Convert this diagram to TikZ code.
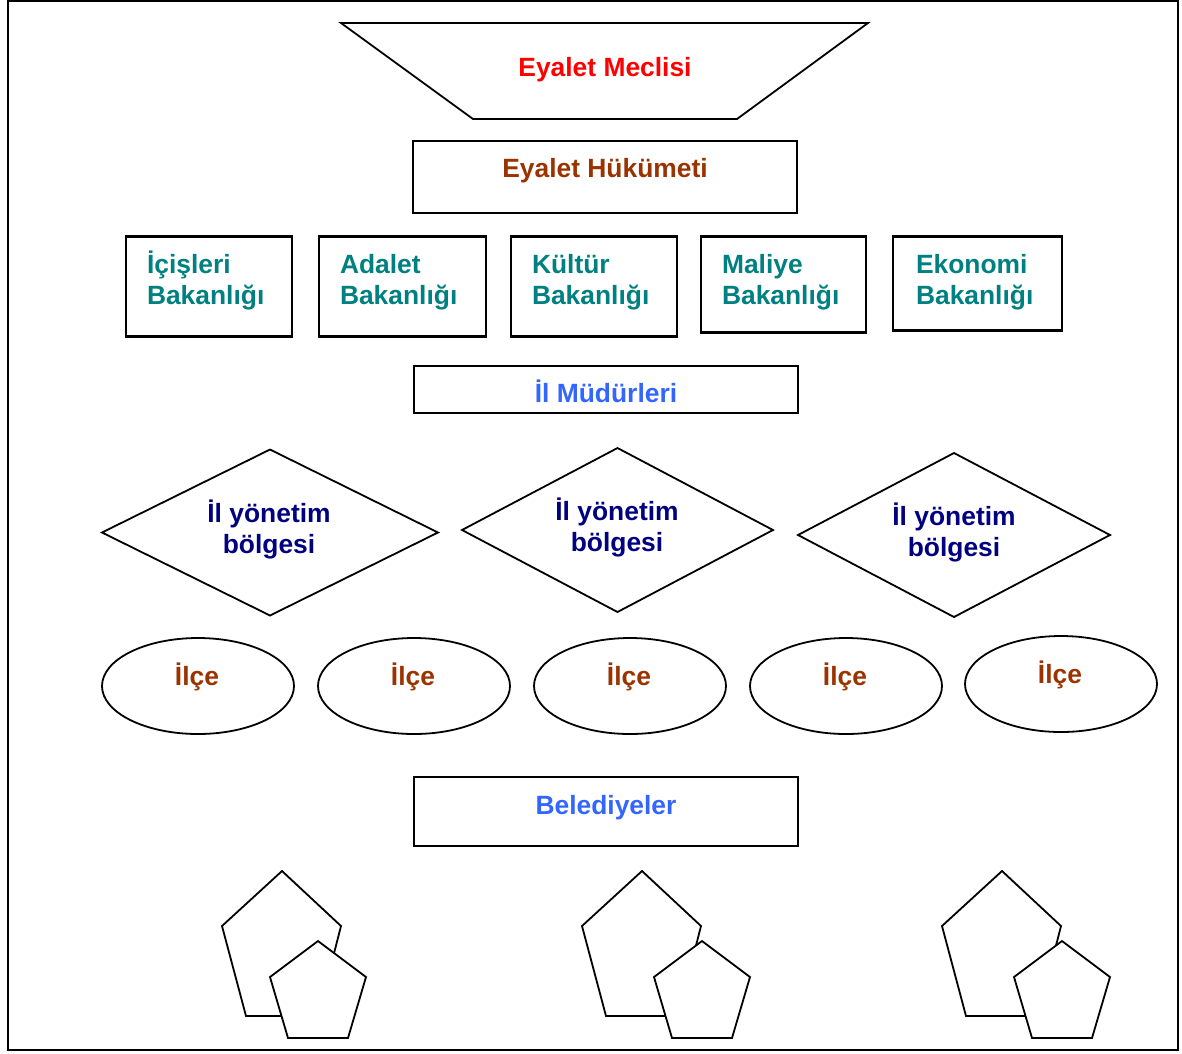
\documentclass[tikz,border=0pt]{standalone}
\usepackage{fontspec}
\setmainfont{Liberation Sans}
\usepackage{tikz}
\usetikzlibrary{shapes.geometric}

\definecolor{meclisred}{HTML}{FF0000}
\definecolor{hukumetbrown}{HTML}{993300}
\definecolor{bakanteal}{HTML}{008080}
\definecolor{mudurblue}{HTML}{3366FF}
\definecolor{bolgenavy}{HTML}{000080}

\begin{document}
\begin{tikzpicture}[x=1pt, y=-1pt, line width=1.8pt,
  every node/.style={inner sep=0pt, outer sep=0pt, font=\fontsize{26.4}{31.5}\selectfont\bfseries},
  kutu/.style={draw, rectangle, line width=2.2pt},
  bolge/.style={draw, diamond},
  ilce/.style={draw, ellipse},
  yazi/.style={anchor=base, align=center}]

  \useasboundingbox (0,0) rectangle (1182,1053);
  \draw [line width=2.4pt] (8,1) rectangle (1178,1050);

  % meclis ve hukumet
  \draw (341,23) -- (868,23) -- (737,119) -- (473,119) -- cycle;
  \node [yazi, text=meclisred] (meclis) at (605,76) {Eyalet Meclisi};

  \node [kutu, minimum width=384pt, minimum height=72pt] (hukumetkutu) at (605,177) {};
  \node [yazi, text=hukumetbrown] (hukumet) at (605,177) {Eyalet Hükümeti};

  % bakanliklar
  \node [kutu, minimum width=166pt, minimum height=100pt] (b1) at (209,286.5) {};
  \node [kutu, minimum width=167pt, minimum height=100pt] (b2) at (402.5,286.5) {};
  \node [kutu, minimum width=166pt, minimum height=100pt] (b3) at (594,286.5) {};
  \node [kutu, minimum width=165pt, minimum height=96pt] (b4) at (783.5,284.5) {};
  \node [kutu, minimum width=169pt, minimum height=94pt] (b5) at (977.5,283.5) {};

  \node [yazi, anchor=base west, align=left, text=bakanteal] (icisleri) at (147,304.5) {İçişleri\\Bakanlığı};
  \node [yazi, anchor=base west, align=left, text=bakanteal] (adalet) at (340,304.5) {Adalet\\Bakanlığı};
  \node [yazi, anchor=base west, align=left, text=bakanteal] (kultur) at (532,304.5) {Kültür\\Bakanlığı};
  \node [yazi, anchor=base west, align=left, text=bakanteal] (maliye) at (722,304.5) {Maliye\\Bakanlığı};
  \node [yazi, anchor=base west, align=left, text=bakanteal] (ekonomi) at (916,304.5) {Ekonomi\\Bakanlığı};

  % il mudurleri
  \node [kutu, minimum width=384pt, minimum height=47pt] (mudurkutu) at (606,389.5) {};
  \node [yazi, text=mudurblue] (mudur) at (606,402) {İl Müdürleri};

  % il yonetim bolgeleri
  \node [bolge, minimum width=336pt, minimum height=166pt] (d1) at (270,532.5) {};
  \node [bolge, minimum width=311pt, minimum height=164pt] (d2) at (617.5,530) {};
  \node [bolge, minimum width=312pt, minimum height=164pt] (d3) at (954,535) {};

  \node [yazi, text=bolgenavy] (bolge1) at (269,553.5) {İl yönetim\\bölgesi};
  \node [yazi, text=bolgenavy] (bolge2) at (617,551.5) {İl yönetim\\bölgesi};
  \node [yazi, text=bolgenavy] (bolge3) at (954,556.5) {İl yönetim\\bölgesi};

  % ilceler
  \foreach \i/\cx/\cy in {1/198/686, 2/414/686, 3/630/686, 4/846/686, 5/1061/684} {
    \node [ilce, minimum width=192pt, minimum height=96pt] (e\i) at (\cx,\cy) {};
    \node [yazi, text=hukumetbrown] (ilce\i) at (\cx-1,\cy-1) {İlçe};
  }

  % belediyeler
  \node [kutu, minimum width=384pt, minimum height=69pt] (belkutu) at (606,811.5) {};
  \node [yazi, text=mudurblue] (belediye) at (606,814) {Belediyeler};

  % beldeler
  \foreach \px/\sx in {282/0, 642/24, 1002/24} {
    \draw (\px,871) -- (\px+59,926) -- (\px+36,1016) -- (\px-36,1016) -- (\px-60,926) -- cycle;
    \draw [fill=white] (\px+\sx+36,941) -- (\px+\sx+84,977) -- (\px+\sx+66,1038)
      -- (\px+\sx+6,1038) -- (\px+\sx-12,977) -- cycle;
  }

\end{tikzpicture}
\end{document}
